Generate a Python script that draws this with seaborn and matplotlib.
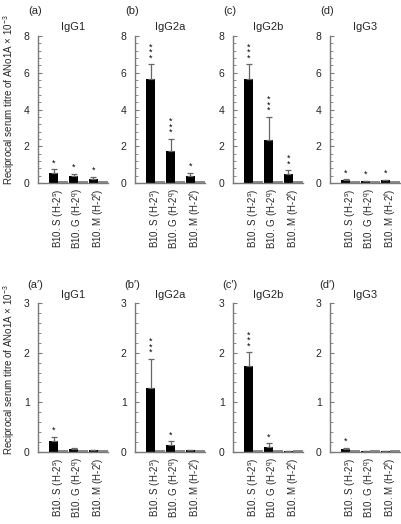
import numpy as np
import pandas as pd
import matplotlib
matplotlib.use("Agg")
import matplotlib.pyplot as plt
from matplotlib.ticker import MultipleLocator
import seaborn as sns

# ---------------- data ----------------
strains = ["B10. S (H-2$^s$)", "B10. G (H-2$^q$)", "B10. M (H-2$^f$)"]
panel_labels_top = ["(a)", "(b)", "(c)", "(d)"]
panel_labels_bot = ["(a\u2032)", "(b\u2032)", "(c\u2032)", "(d\u2032)"]
isotypes = ["IgG1", "IgG2a", "IgG2b", "IgG3"]

# top row (primary)
top_vals = [[0.55, 0.40, 0.20],
            [5.65, 1.75, 0.40],
            [5.65, 2.32, 0.50],
            [0.15, 0.10, 0.15]]
top_err = [[0.20, 0.10, 0.15],
           [0.80, 0.65, 0.15],
           [0.80, 1.28, 0.20],
           [0.05, 0.03, 0.04]]
top_ctrl = [[0.10, 0.10, 0.10]] * 4
top_stars = [["*", "*", "*"],
             ["***", "***", "*"],
             ["***", "***", "**"],
             ["*", "*", "*"]]

# bottom row
bot_vals = [[0.22, 0.05, 0.03],
            [1.28, 0.14, 0.03],
            [1.73, 0.10, 0.02],
            [0.06, 0.02, 0.02]]
bot_err = [[0.08, 0.03, 0.00],
           [0.60, 0.07, 0.00],
           [0.28, 0.07, 0.00],
           [0.02, 0.00, 0.00]]
bot_ctrl = [[0.03, 0.03, 0.03]] * 4
bot_stars = [["*", "", ""],
             ["***", "*", ""],
             ["***", "*", ""],
             ["*", "", ""]]

ylabel = "Reciprocal serum titre of ANo1A \u00d7 10$^{-3}$"

# ---------------- style ----------------
sns.set_style("ticks")
plt.rcParams["font.family"] = ["Liberation Sans", "DejaVu Sans"]
plt.rcParams["mathtext.default"] = "regular"

W, H = 401, 524
fig = plt.figure(figsize=(W / 100, H / 100), dpi=100)

spine_c = "#7a7a7a"
ctrl_c = "#8a8a8a"

lefts = [38, 135, 233, 330]
axw = 70


def draw_panel(ax, vals, err, ctrl, stars, ymax, major, minor, title):
    df = pd.DataFrame({
        "strain": strains * 2,
        "value": list(vals) + list(ctrl),
        "group": ["imm"] * 3 + ["ctrl"] * 3,
    })
    sns.barplot(data=df, x="strain", y="value", hue="group",
                hue_order=["imm", "ctrl"], order=strains,
                palette={"imm": "black", "ctrl": ctrl_c},
                width=0.95, saturation=1, errorbar=None, legend=False,
                linewidth=0, ax=ax)
    imm_patches = ax.patches[:3]
    xs = [p.get_x() + p.get_width() / 2 for p in imm_patches]
    ax.errorbar(xs, vals, yerr=[[0] * 3, err], fmt="none",
                ecolor="#666666", elinewidth=0.9, capsize=2, capthick=0.9,
                zorder=1)
    for x, v, e, s in zip(xs, vals, err, stars):
        if s:
            ax.text(x, v + e + ymax * 0.012, "\n".join(s), ha="center",
                    va="bottom", fontsize=6.5, linespacing=0.5, color="black")
    ax.set_ylim(0, ymax)
    ax.set_xlim(-1.03, 2.5)
    ax.yaxis.set_major_locator(MultipleLocator(major))
    ax.yaxis.set_minor_locator(MultipleLocator(minor))
    for side in ["top", "right"]:
        ax.spines[side].set_visible(False)
    for side in ["left", "bottom"]:
        ax.spines[side].set_color(spine_c)
        ax.spines[side].set_linewidth(1.0)
    ax.tick_params(axis="y", which="major", direction="in", length=3,
                   width=0.8, color=spine_c, labelsize=7.5, pad=6)
    ax.tick_params(axis="y", which="minor", direction="in", length=2,
                   width=0.6, color=spine_c)
    ax.tick_params(axis="x", length=0, pad=4, labelsize=7)
    ax.set_xticks(range(3))
    ax.set_xticklabels(strains, rotation=90, ha="center", va="top")
    ax.set_xlabel("")
    ax.set_ylabel("")
    ax.set_title(title, fontsize=8, pad=4)


# top row
for i in range(4):
    ax = fig.add_axes([lefts[i] / W, 1 - 183 / H, axw / W, (183 - 36) / H])
    draw_panel(ax, top_vals[i], top_err[i], top_ctrl[i], top_stars[i],
               8, 2, 0.4, isotypes[i])
    fig.text((lefts[i] - 3) / W, 1 - 11 / H, panel_labels_top[i],
             ha="center", va="center", fontsize=8)

# bottom row
for i in range(4):
    ax = fig.add_axes([lefts[i] / W, 1 - 451.7 / H, axw / W, (451.7 - 303.3) / H])
    draw_panel(ax, bot_vals[i], bot_err[i], bot_ctrl[i], bot_stars[i],
               3, 1, 0.2, isotypes[i])
    fig.text((lefts[i] - 3) / W, 1 - 285 / H, panel_labels_bot[i],
             ha="center", va="center", fontsize=8)

fig.text(9 / W, 1 - 100 / H, ylabel, rotation=90, ha="center", va="center",
         fontsize=7)
fig.text(9 / W, 1 - 370 / H, ylabel, rotation=90, ha="center", va="center",
         fontsize=7)

fig.savefig("out.png", dpi=100)
